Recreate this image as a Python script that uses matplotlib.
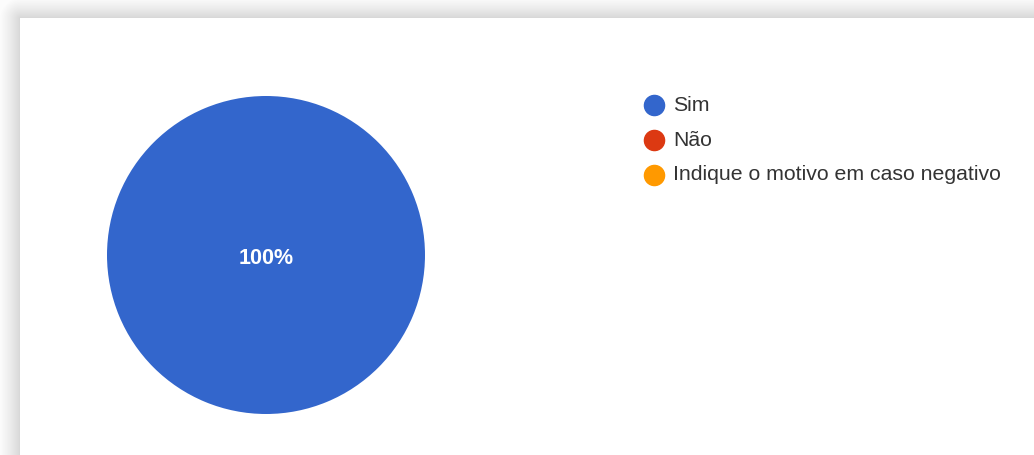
import numpy as np
import matplotlib.pyplot as plt
from matplotlib.lines import Line2D

plt.rcParams['font.family'] = ['Liberation Sans', 'DejaVu Sans']

# respostas
labels = ['Sim', 'Não', 'Indique o motivo em caso negativo']
values = [100, 0, 0]
colors = ['#3366cc', '#dc3912', '#ff9900']

W, H = 1034, 455
fig = plt.figure(figsize=(W / 100, H / 100), dpi=100)

# fundo com sombra cinza à esquerda e em cima do cartão branco
bg = fig.add_axes([0, 0, 1, 1])
px, py = np.meshgrid(np.arange(W) + 0.5, np.arange(H) + 0.5)
left, top = 20, 18
dx = np.clip(left - px, 0, None)
dy = np.clip(top - py, 0, None)
d = np.hypot(dx, dy)
shade = np.where(d > 0, 0.84 + 0.15 * np.clip(d / 20, 0, 1) ** 0.8, 1.0)
bg.imshow(np.dstack([shade] * 3), extent=[0, W, H, 0], interpolation='bilinear')
bg.set_xlim(0, W)
bg.set_ylim(H, 0)
bg.axis('off')

# pizza
cx, cy, r = 266, 255, 159
ax = fig.add_axes([(cx - r) / W, (H - cy - r) / H, 2 * r / W, 2 * r / H])
ax.pie(values, colors=colors, startangle=90, counterclock=False,
       wedgeprops=dict(linewidth=0))
ax.set_xlim(-1, 1)
ax.set_ylim(-1, 1)
ax.set_aspect('equal')

total = sum(values)
for v in values:
    if v == total:
        ax.text(0, -0.02, f'{v / total * 100:.0f}%', ha='center', va='center',
                color='white', fontsize=15.5, fontweight='bold')

# legenda
lx, ly0, step = 654, 105, 35
for i, (lab, c) in enumerate(zip(labels, colors)):
    y = ly0 + i * step
    fig.add_artist(Line2D([lx / W], [1 - y / H], marker='o', markersize=14.5,
                          color=c, linestyle='none', transform=fig.transFigure))
    fig.text((lx + 19) / W, 1 - y / H, lab, ha='left', va='center',
             fontsize=15.3, color='#333333')

fig.savefig('out.png', dpi=100)
